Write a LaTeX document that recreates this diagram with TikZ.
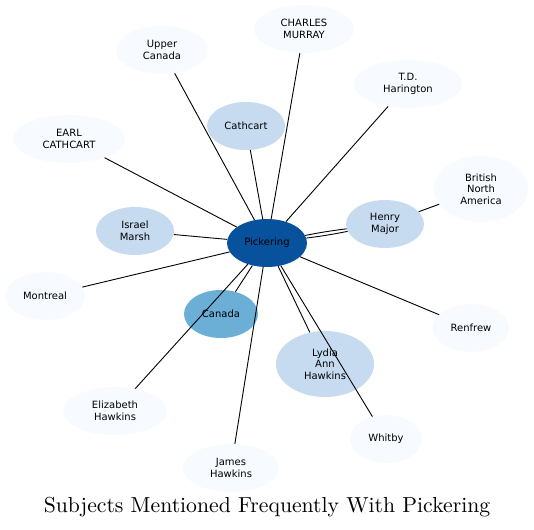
\documentclass[tikz,border=0pt]{standalone}
\usepackage{fontspec}
\usepackage{tikz}
\usetikzlibrary{shapes.geometric}
\newfontfamily\labelfont{DejaVu Sans}
\newfontfamily\titlefont{lmroman10-regular.otf}
\definecolor{blueD}{HTML}{08519C}
\definecolor{blueC}{HTML}{6BAED6}
\definecolor{blueB}{HTML}{C6DBEF}
\definecolor{blueA}{HTML}{F7FBFF}

\begin{document}
\begin{tikzpicture}[
  x=1pt, y=-1pt,
  font=\labelfont\fontsize{10}{11.7}\selectfont,
  el/.style ={ellipse, inner sep=0pt, align=center, minimum width=#1*2pt},
  el/.default=39,
  lt/.style ={el=#1, fill=blueA, minimum height=48pt},
  md/.style ={el=#1, fill=blueB, minimum height=48pt},
  tall/.style={minimum height=66pt},
  edge/.style={line width=0.9pt, draw=black}
]
\useasboundingbox (0,0) rectangle (534,529);

% centre
\node[el=40, fill=blueD, minimum height=48pt] (pk) at (267,243) {Pickering};

% inner ring
\node[md=39] (cat) at (246,126) {Cathcart};
\node[md=39] (im)  at (135,231) {Israel\\Marsh};
\node[md=39] (hm)  at (385,224) {Henry\\Major};
\node[el=37, fill=blueC, minimum height=48pt] (can) at (221,314) {Canada};
\node[md=49, tall] (lah) at (325,364) {Lydia\\Ann\\Hawkins};

% outer ring
\node[lt=46] (uc)  at (162,50)  {Upper\\Canada};
\node[lt=50] (cm)  at (304,29)  {CHARLES\\MURRAY};
\node[lt=54] (tdh) at (408,84)  {T.D.\\Harington};
\node[lt=56] (ec)  at (69,139)  {EARL\\CATHCART};
\node[lt=47, tall] (bna) at (481,189) {British\\North\\America};
\node[lt=40] (mtl) at (45,296)  {Montreal};
\node[lt=38] (ren) at (471,328) {Renfrew};
\node[lt=36] (wby) at (386,439) {Whitby};
\node[lt=52] (eh)  at (115,411) {Elizabeth\\Hawkins};
\node[lt=48] (jh)  at (231,468) {James\\Hawkins};

\foreach \n in {cat, im, can, lah, uc, cm, tdh, ec, mtl, ren, wby, eh, jh}
  \draw[edge] (pk) -- (\n);
\draw[edge] (pk) to[bend left=2] (hm);
\draw[edge] (pk) to[bend right=2] (hm);
\draw[edge] (hm) -- (bna);

\node[font=\titlefont\fontsize{21.7}{26}\selectfont] (title) at (267,507)
  {Subjects Mentioned Frequently With Pickering};
\end{tikzpicture}
\end{document}
